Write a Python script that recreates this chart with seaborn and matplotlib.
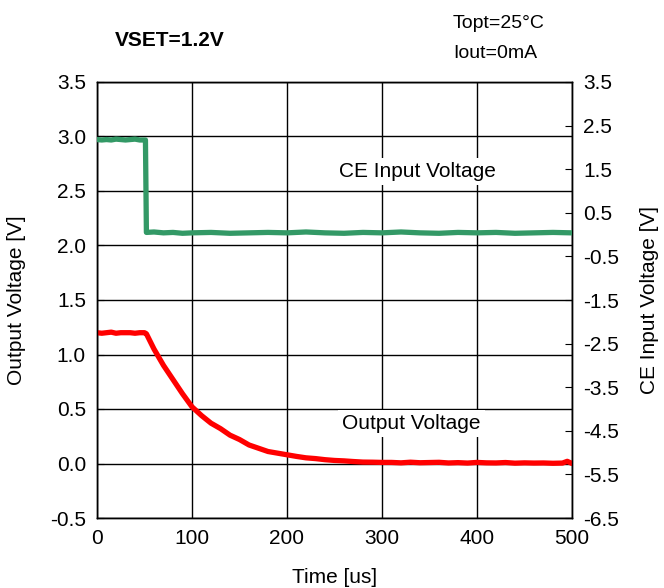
import pandas as pd
import matplotlib
matplotlib.use("Agg")
import matplotlib.pyplot as plt
import seaborn as sns

# Output voltage (left axis)
time_out = [0, 5, 10, 15, 20, 25, 30, 35, 40, 45, 50, 52,
            60, 70, 80, 90, 100, 110, 120, 130, 140, 150, 160, 170, 180, 190,
            200, 210, 220, 230, 240, 250, 260, 270, 280, 290, 300,
            310, 320, 330, 340, 350, 360, 370, 380, 390, 400,
            410, 420, 430, 440, 450, 460, 470, 480, 490, 495, 500]
vout = [1.20, 1.195, 1.20, 1.205, 1.195, 1.20, 1.20, 1.20, 1.195, 1.20, 1.20, 1.19,
        1.05, 0.90, 0.77, 0.64, 0.52, 0.44, 0.37, 0.32, 0.26, 0.22, 0.17, 0.14, 0.11, 0.095,
        0.08, 0.065, 0.052, 0.045, 0.035, 0.028, 0.024, 0.018, 0.013, 0.012, 0.010,
        0.010, 0.006, 0.012, 0.007, 0.009, 0.011, 0.005, 0.008, 0.004, 0.010,
        0.006, 0.005, 0.009, 0.003, 0.006, 0.004, 0.005, 0.002, 0.004, 0.020, 0.000]

# CE input voltage (right axis)
time_ce = [0, 5, 10, 15, 20, 25, 30, 35, 40, 45, 51, 52,
           60, 70, 80, 90, 100, 120, 140, 160, 180, 200, 220, 240, 260, 280,
           300, 320, 340, 360, 380, 400, 420, 440, 460, 480, 500]
vce = [2.18, 2.17, 2.18, 2.17, 2.19, 2.18, 2.17, 2.18, 2.19, 2.17, 2.17, 0.05,
       0.06, 0.04, 0.05, 0.03, 0.04, 0.05, 0.03, 0.04, 0.05, 0.04, 0.06, 0.04, 0.03, 0.05,
       0.04, 0.06, 0.04, 0.03, 0.05, 0.04, 0.05, 0.03, 0.04, 0.05, 0.04]

x_ticks = [0, 100, 200, 300, 400, 500]
left_ticks = [-0.5, 0.0, 0.5, 1.0, 1.5, 2.0, 2.5, 3.0, 3.5]
right_ticks = [-6.5, -5.5, -4.5, -3.5, -2.5, -1.5, -0.5, 0.5, 1.5, 2.5, 3.5]

df_out = pd.DataFrame({"t": time_out, "v": vout})
df_ce = pd.DataFrame({"t": time_ce, "v": vce})

sns.set_style("white")
plt.rcParams["font.family"] = ["Liberation Sans", "DejaVu Sans"]
plt.rcParams["text.color"] = "black"
plt.rcParams["axes.labelcolor"] = "black"

fig = plt.figure(figsize=(6.64, 5.88), dpi=100)
ax = fig.add_axes([97 / 664, 1 - 518 / 588, 475 / 664, 436 / 588])
ax2 = ax.twinx()

sns.lineplot(data=df_out, x="t", y="v", ax=ax, color="#ff0000", linewidth=3.8, zorder=3)
sns.lineplot(data=df_ce, x="t", y="v", ax=ax2, color="#339966", linewidth=3.8, zorder=3)

ax.set_xlim(0, 500)
ax.set_ylim(-0.5, 3.5)
ax2.set_ylim(-6.5, 3.5)
ax.set_xticks(x_ticks)
ax.set_yticks(left_ticks)
ax.set_yticklabels([f"{v:.1f}" for v in left_ticks])
ax2.set_yticks(right_ticks)
ax2.set_yticklabels([f"{v:.1f}" for v in right_ticks])

ax.grid(True, color="black", linewidth=1)
ax.set_axisbelow(True)
ax2.grid(False)
for a in (ax, ax2):
    for s in a.spines.values():
        s.set_color("black")
        s.set_linewidth(1)
ax.tick_params(axis="both", direction="in", length=5, labelsize=15, colors="black", pad=8)
ax2.tick_params(axis="y", direction="in", length=5, labelsize=15, colors="black", pad=8)

ax.set_xlabel("Time [us]", fontsize=15, labelpad=14)
ax.set_ylabel("Output Voltage [V]", fontsize=15, labelpad=17)
ax2.set_ylabel("CE Input Voltage [V]", fontsize=15, labelpad=15)

box = dict(facecolor="white", edgecolor="none", pad=3)
ax.text(337, 2.68, "CE Input Voltage", fontsize=15, ha="center", va="center", bbox=box, zorder=4)
ax.text(331, 0.37, "Output Voltage", fontsize=15, ha="center", va="center", bbox=box, zorder=4)

fig.text(170 / 664, 1 - 41 / 588, "VSET=1.2V", fontsize=15, fontweight="bold", ha="center", va="center")
fig.text(453 / 664, 1 - 24 / 588, "Topt=25°C", fontsize=14, ha="left", va="center")
fig.text(453 / 664, 1 - 53 / 588, "Iout=0mA", fontsize=14, ha="left", va="center")

fig.savefig("out.png", dpi=100)
